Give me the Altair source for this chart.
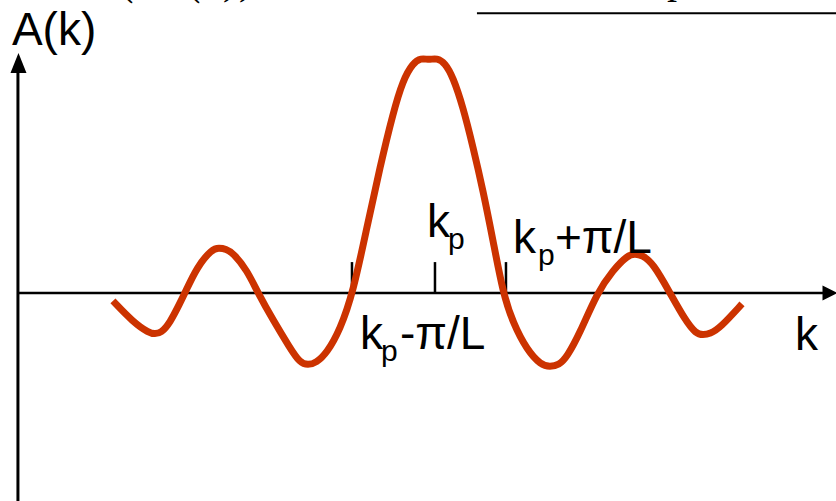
import altair as alt
import pandas as pd

# Wave-packet amplitude A(k): k in units of pi/L measured from k_p,
# A normalised to the height of the central lobe.
k_vals = [-4.182, -3.922, -3.714, -3.636, -3.558, -3.442, -3.312, -3.247, -3.091,
          -2.896, -2.805, -2.714, -2.623, -2.442, -2.299, -2.104, -1.883, -1.753,
          -1.649, -1.545, -1.403, -1.234, -1.065, -0.883, -0.714, -0.545, -0.416,
          -0.286, -0.182, -0.078, 0.026, 0.130, 0.234, 0.364, 0.494, 0.623, 0.753,
          0.883, 1.013, 1.195, 1.377, 1.494, 1.610, 1.714, 1.883, 2.104, 2.312,
          2.506, 2.597, 2.688, 2.831, 3.052, 3.247, 3.390, 3.481, 3.571, 3.701,
          3.987]
a_vals = [-0.034, -0.124, -0.171, -0.175, -0.171, -0.128, -0.043, 0.0, 0.111,
          0.188, 0.192, 0.188, 0.171, 0.098, 0.0, -0.115, -0.235, -0.299,
          -0.308, -0.299, -0.256, -0.158, 0.0, 0.282, 0.538, 0.769, 0.910,
          0.983, 1.004, 0.996, 1.004, 0.983, 0.923, 0.795, 0.624, 0.440, 0.226,
          0.0, -0.128, -0.244, -0.308, -0.316, -0.308, -0.274, -0.171, 0.0, 0.098,
          0.162, 0.167, 0.162, 0.128, 0.0, -0.115, -0.175, -0.179, -0.175, -0.150,
          -0.047]

# tick marks at k_p - pi/L, k_p, k_p + pi/L
tick_k = [-1.078, 0.0, 0.922]
TICK_H = 0.132

# axis geometry (data units)
Y_AXIS_K = -5.416
X_AXIS_END = 5.039
Y_AXIS_TOP = 0.940
Y_ARROW = (-5.409, 0.983)
X_ARROW = (5.130, 0.0)

# main-size label pieces
big_text = ["A(k)", "k", "k", "k", "+\u03c0/L", "k", "-\u03c0/L"]
big_k = [-5.494, 4.675, -0.104, 1.013, 1.558, -0.974, -0.455]
big_a = [1.060, -0.244, 0.239, 0.171, 0.171, -0.239, -0.239]

# subscript "p" pieces
sub_text = ["p", "p", "p"]
sub_k = [0.169, 1.337, -0.701]
sub_a = [0.188, 0.120, -0.291]

# formula fragments running along the top edge
frag_text = ["(", "(", ")", ")", "p"]
frag_k = [-4.052, -3.182, -2.714, -2.506, 3.052]
frag_a = [1.274, 1.274, 1.278, 1.278, 1.282]
frac_line_k = [0.545, 5.208]
frac_line_a = 1.195

X_DOM = [-5.649, 5.208]
Y_DOM = [-0.889, 1.252]
xs = alt.Scale(domain=X_DOM, nice=False, zero=False)
ys = alt.Scale(domain=Y_DOM, nice=False, zero=False)


def X(field):
    return alt.X(field, scale=xs, axis=None)


def Y(field):
    return alt.Y(field, scale=ys, axis=None)


curve = alt.Chart(pd.DataFrame({"k": k_vals, "A": a_vals})).mark_line(
    color="#CC3300", strokeWidth=7, interpolate="basis", strokeCap="butt"
).encode(x=X("k:Q"), y=Y("A:Q"))

xaxis = alt.Chart(pd.DataFrame({"k": [Y_AXIS_K], "k2": [X_AXIS_END], "A": [0.0]})).mark_rule(
    color="black", strokeWidth=2.5
).encode(x=X("k:Q"), x2="k2:Q", y=Y("A:Q"))

yaxis = alt.Chart(pd.DataFrame({"k": [Y_AXIS_K], "A": [Y_DOM[0]], "A2": [Y_AXIS_TOP]})).mark_rule(
    color="black", strokeWidth=3
).encode(x=X("k:Q"), y=Y("A:Q"), y2="A2:Q")

ticks = alt.Chart(pd.DataFrame({"k": tick_k, "A": [0.0] * 3, "A2": [TICK_H] * 3})).mark_rule(
    color="black", strokeWidth=2.5
).encode(x=X("k:Q"), y=Y("A:Q"), y2="A2:Q")

up_arrow = alt.Chart(pd.DataFrame({"k": [Y_ARROW[0]], "A": [Y_ARROW[1]]})).mark_point(
    shape="M 0 -1 L 0.8 1 L -0.8 1 Z", filled=True, size=400, color="black", opacity=1
).encode(x=X("k:Q"), y=Y("A:Q"))

right_arrow = alt.Chart(pd.DataFrame({"k": [X_ARROW[0]], "A": [X_ARROW[1]]})).mark_point(
    shape="M 1 0 L -1 -1 L -1 1 Z", filled=True, size=225, color="black", opacity=1
).encode(x=X("k:Q"), y=Y("A:Q"))

big_labels = alt.Chart(pd.DataFrame({"t": big_text, "k": big_k, "A": big_a})).mark_text(
    align="left", baseline="alphabetic", font="Liberation Sans", fontSize=46, color="black"
).encode(x=X("k:Q"), y=Y("A:Q"), text="t:N")

sub_labels = alt.Chart(pd.DataFrame({"t": sub_text, "k": sub_k, "A": sub_a})).mark_text(
    align="left", baseline="alphabetic", font="Liberation Sans", fontSize=30, color="black"
).encode(x=X("k:Q"), y=Y("A:Q"), text="t:N")

frags = alt.Chart(pd.DataFrame({"t": frag_text, "k": frag_k, "A": frag_a})).mark_text(
    align="left", baseline="alphabetic", font="Liberation Serif", fontStyle="italic",
    fontSize=40, color="black"
).encode(x=X("k:Q"), y=Y("A:Q"), text="t:N")

frac_line = alt.Chart(pd.DataFrame({"k": [frac_line_k[0]], "k2": [frac_line_k[1]],
                                    "A": [frac_line_a]})).mark_rule(
    color="black", strokeWidth=2
).encode(x=X("k:Q"), x2="k2:Q", y=Y("A:Q"))

chart = alt.layer(
    xaxis, yaxis, ticks, up_arrow, right_arrow, frac_line, frags, curve,
    big_labels, sub_labels
).properties(
    width=836, height=501, padding=0,
    autosize=alt.AutoSizeParams(type="none"),
    background="white",
).configure_view(strokeWidth=0)

chart.save("out.html", embed_options={"renderer": "svg", "actions": False})
